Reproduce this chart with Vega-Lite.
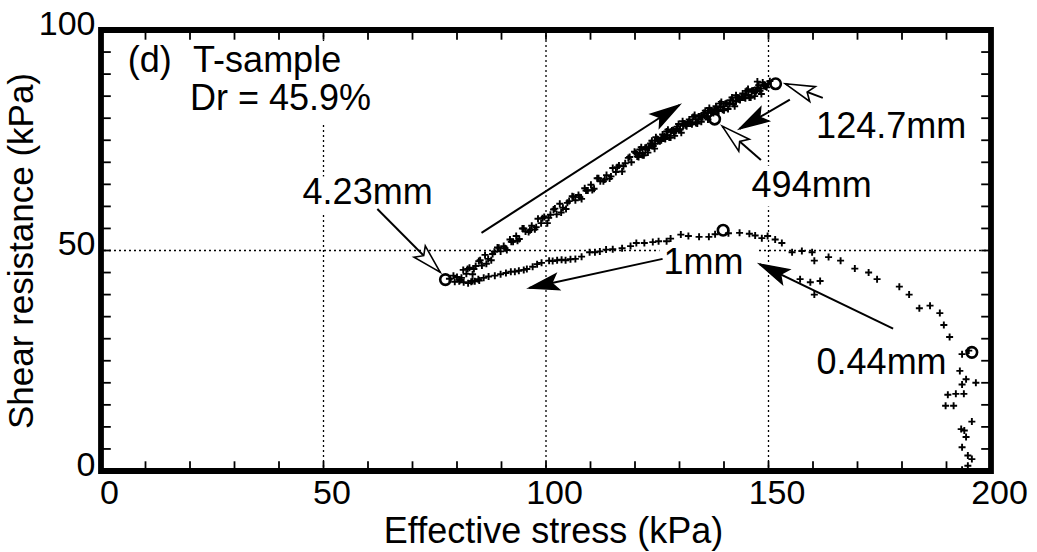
{
  "$schema": "https://vega.github.io/schema/vega-lite/v6.json",
  "width": 890,
  "height": 441,
  "autosize": {"type": "none"},
  "padding": {"left": 101, "top": 30, "right": 46, "bottom": 81},
  "background": "white",
  "config": {
    "view": {"stroke": "black", "strokeWidth": 5.8},
    "font": "Liberation Sans",
    "axis": {
      "labelFont": "Liberation Sans",
      "titleFont": "Liberation Sans",
      "labelColor": "black",
      "titleColor": "black",
      "labelFontSize": 34,
      "titleFontSize": 35,
      "titleFontWeight": "normal",
      "grid": false,
      "domain": false,
      "ticks": false,
      "labelFlush": false,
      "labelOverlap": false,
      "labelBound": false
    }
  },
  "datasets": {
    "path": [
      {"x": 193.5, "y": 0.3}, {"x": 194.8, "y": 1.2}, {"x": 195.7, "y": 2.7}, {"x": 194.8, "y": 3.5},
      {"x": 193.5, "y": 5.4}, {"x": 194.4, "y": 7.7}, {"x": 194.0, "y": 9.2}, {"x": 193.3, "y": 9.5},
      {"x": 195.7, "y": 11.2}, {"x": 189.8, "y": 14.8}, {"x": 191.6, "y": 14.8}, {"x": 190.3, "y": 17.3},
      {"x": 192.1, "y": 17.5}, {"x": 193.9, "y": 17.5}, {"x": 193.5, "y": 19.6}, {"x": 194.4, "y": 20.8},
      {"x": 196.6, "y": 20.0}, {"x": 193.0, "y": 22.7}, {"x": 193.5, "y": 26.5}, {"x": 195.0, "y": 27.3},
      {"x": 190.7, "y": 30.4}, {"x": 189.4, "y": 33.1}, {"x": 188.5, "y": 35.8}, {"x": 186.3, "y": 37.5},
      {"x": 183.9, "y": 36.9}, {"x": 181.6, "y": 40.0}, {"x": 179.4, "y": 41.8}, {"x": 174.4, "y": 43.5},
      {"x": 172.5, "y": 45.0}, {"x": 169.4, "y": 45.9}, {"x": 166.2, "y": 47.7}, {"x": 163.5, "y": 48.5},
      {"x": 160.3, "y": 47.7}, {"x": 159.8, "y": 49.6}, {"x": 155.3, "y": 49.6}, {"x": 153.0, "y": 51.7},
      {"x": 149.8, "y": 53.3}, {"x": 148.5, "y": 52.8}, {"x": 145.7, "y": 53.8}, {"x": 141.0, "y": 53.9},
      {"x": 136.6, "y": 53.1}, {"x": 134.4, "y": 53.1}, {"x": 130.3, "y": 53.6}, {"x": 128.0, "y": 52.7},
      {"x": 127.1, "y": 52.1}, {"x": 125.3, "y": 52.1}, {"x": 122.1, "y": 51.7}, {"x": 120.3, "y": 51.7},
      {"x": 117.1, "y": 50.5}, {"x": 113.5, "y": 50.2}, {"x": 112.1, "y": 49.8}, {"x": 109.8, "y": 49.6},
      {"x": 106.6, "y": 48.1}, {"x": 104.4, "y": 47.8}, {"x": 102.5, "y": 47.8}, {"x": 100.7, "y": 47.7},
      {"x": 98.0, "y": 46.9}, {"x": 95.7, "y": 45.8}, {"x": 93.9, "y": 45.4}, {"x": 92.1, "y": 45.2},
      {"x": 89.8, "y": 44.6}, {"x": 87.1, "y": 44.1}, {"x": 84.8, "y": 43.5}, {"x": 83.5, "y": 43.1},
      {"x": 159.4, "y": 42.8}, {"x": 161.6, "y": 43.1}, {"x": 160.3, "y": 40.0}, {"x": 157.1, "y": 43.5},
      {"x": 86.0, "y": 43.8}, {"x": 88.5, "y": 44.3}, {"x": 91.0, "y": 44.9}, {"x": 93.0, "y": 45.2},
      {"x": 95.0, "y": 45.6}, {"x": 97.0, "y": 46.3}, {"x": 99.0, "y": 47.2}, {"x": 101.5, "y": 47.6},
      {"x": 103.5, "y": 47.9}, {"x": 105.5, "y": 48.0}, {"x": 108.0, "y": 48.6}, {"x": 111.0, "y": 49.6},
      {"x": 115.0, "y": 50.3}, {"x": 119.0, "y": 51.0}, {"x": 124.0, "y": 51.9}, {"x": 132.0, "y": 53.3},
      {"x": 138.0, "y": 53.7}, {"x": 143.5, "y": 54.0}, {"x": 147.0, "y": 53.4}, {"x": 151.5, "y": 52.5},
      {"x": 157.5, "y": 49.9}, {"x": 80.5, "y": 43.0}, {"x": 81.5, "y": 42.8}, {"x": 82.5, "y": 42.6},
      {"x": 83.2, "y": 42.9}, {"x": 84.0, "y": 43.0}, {"x": 85.0, "y": 43.2},
      {"x": 78.3, "y": 43.6}, {"x": 79.2, "y": 44.3}, {"x": 79.5, "y": 42.9},

      {"x": 80.0, "y": 44.0}, {"x": 80.7, "y": 43.3}, {"x": 81.4, "y": 45.6}, {"x": 82.1, "y": 44.7},
      {"x": 82.8, "y": 46.1}, {"x": 83.5, "y": 44.6}, {"x": 84.2, "y": 46.5}, {"x": 84.9, "y": 47.6},
      {"x": 85.6, "y": 46.6}, {"x": 86.3, "y": 49.0}, {"x": 87.0, "y": 48.1}, {"x": 87.7, "y": 47.8},
      {"x": 88.4, "y": 49.7}, {"x": 89.1, "y": 50.7}, {"x": 89.8, "y": 49.8}, {"x": 90.5, "y": 51.0},
      {"x": 91.2, "y": 50.1}, {"x": 91.9, "y": 52.5}, {"x": 92.6, "y": 52.0}, {"x": 93.3, "y": 53.3},
      {"x": 94.0, "y": 52.6}, {"x": 94.7, "y": 55.0}, {"x": 95.4, "y": 54.3}, {"x": 96.1, "y": 54.2},
      {"x": 96.8, "y": 55.6}, {"x": 97.5, "y": 54.8}, {"x": 98.2, "y": 57.2}, {"x": 98.9, "y": 56.2},
      {"x": 99.6, "y": 57.6}, {"x": 100.3, "y": 56.2}, {"x": 101.0, "y": 58.1}, {"x": 101.7, "y": 59.3},
      {"x": 102.4, "y": 58.2}, {"x": 103.1, "y": 60.6}, {"x": 103.8, "y": 59.7}, {"x": 104.5, "y": 59.4},
      {"x": 105.2, "y": 61.2}, {"x": 105.9, "y": 62.3}, {"x": 106.6, "y": 61.4}, {"x": 107.3, "y": 62.6},
      {"x": 108.0, "y": 61.7}, {"x": 108.7, "y": 64.1}, {"x": 109.4, "y": 63.6}, {"x": 110.1, "y": 64.9},
      {"x": 110.8, "y": 64.0}, {"x": 111.5, "y": 66.4}, {"x": 112.2, "y": 65.7}, {"x": 112.9, "y": 65.7},
      {"x": 113.6, "y": 67.1}, {"x": 114.3, "y": 66.3}, {"x": 115.0, "y": 68.7}, {"x": 115.7, "y": 67.8},
      {"x": 116.4, "y": 69.3}, {"x": 117.1, "y": 67.9}, {"x": 117.8, "y": 69.8}, {"x": 118.5, "y": 71.0},
      {"x": 119.2, "y": 70.0}, {"x": 119.9, "y": 72.4},

      {"x": 81.0, "y": 43.8}, {"x": 82.4, "y": 45.8}, {"x": 83.8, "y": 45.8}, {"x": 85.2, "y": 47.8},
      {"x": 86.6, "y": 47.0}, {"x": 88.0, "y": 49.2}, {"x": 89.4, "y": 50.6}, {"x": 90.8, "y": 50.5},
      {"x": 92.2, "y": 52.0}, {"x": 93.6, "y": 52.2}, {"x": 95.0, "y": 55.0}, {"x": 96.4, "y": 54.6},
      {"x": 97.8, "y": 55.3}, {"x": 99.2, "y": 57.3}, {"x": 100.6, "y": 57.4}, {"x": 102.0, "y": 59.5},
      {"x": 103.4, "y": 58.6}, {"x": 104.8, "y": 60.8}, {"x": 106.2, "y": 62.2}, {"x": 107.6, "y": 62.1},
      {"x": 109.0, "y": 63.6}, {"x": 110.4, "y": 63.7}, {"x": 111.8, "y": 66.4}, {"x": 113.2, "y": 66.1},
      {"x": 114.6, "y": 66.8}, {"x": 116.0, "y": 68.9}, {"x": 117.4, "y": 69.1}, {"x": 118.8, "y": 71.2},

      {"x": 120.2, "y": 72.1}, {"x": 120.8, "y": 71.2}, {"x": 121.4, "y": 73.4}, {"x": 122.0, "y": 71.6},
      {"x": 122.6, "y": 73.4}, {"x": 123.2, "y": 73.3}, {"x": 123.8, "y": 74.9}, {"x": 124.4, "y": 73.1},
      {"x": 125.0, "y": 75.3}, {"x": 125.6, "y": 74.8}, {"x": 126.2, "y": 76.3}, {"x": 126.8, "y": 75.3},
      {"x": 127.4, "y": 77.4}, {"x": 128.0, "y": 75.6}, {"x": 128.6, "y": 77.3}, {"x": 129.2, "y": 77.1},
      {"x": 129.8, "y": 78.7}, {"x": 130.4, "y": 76.7}, {"x": 131.0, "y": 78.8}, {"x": 131.6, "y": 78.2},
      {"x": 132.2, "y": 79.7}, {"x": 132.8, "y": 78.6}, {"x": 133.4, "y": 80.7}, {"x": 134.0, "y": 78.8},
      {"x": 134.6, "y": 80.4}, {"x": 135.2, "y": 80.2}, {"x": 135.8, "y": 81.7}, {"x": 136.4, "y": 79.7},
      {"x": 137.0, "y": 81.8}, {"x": 137.6, "y": 81.2}, {"x": 138.2, "y": 82.7}, {"x": 138.8, "y": 81.6},
      {"x": 139.4, "y": 83.7}, {"x": 140.0, "y": 81.8}, {"x": 140.6, "y": 83.4}, {"x": 141.2, "y": 83.2},
      {"x": 141.8, "y": 84.7}, {"x": 142.4, "y": 82.7}, {"x": 143.0, "y": 84.7}, {"x": 143.6, "y": 84.1},
      {"x": 144.2, "y": 85.6}, {"x": 144.8, "y": 84.5}, {"x": 145.4, "y": 86.6}, {"x": 146.0, "y": 84.7},
      {"x": 146.6, "y": 86.3}, {"x": 147.2, "y": 86.1}, {"x": 147.8, "y": 87.5}, {"x": 148.4, "y": 85.5},
      {"x": 149.0, "y": 87.6}, {"x": 149.6, "y": 87.0},

      {"x": 120.5, "y": 71.3}, {"x": 121.1, "y": 72.9}, {"x": 121.7, "y": 71.6}, {"x": 122.3, "y": 73.3},
      {"x": 122.9, "y": 72.2}, {"x": 123.5, "y": 74.3}, {"x": 124.1, "y": 73.7}, {"x": 124.7, "y": 75.7},
      {"x": 125.3, "y": 74.9}, {"x": 125.9, "y": 75.5}, {"x": 126.5, "y": 75.4}, {"x": 127.1, "y": 77.0},
      {"x": 127.7, "y": 75.6}, {"x": 128.3, "y": 77.2}, {"x": 128.9, "y": 76.0}, {"x": 129.5, "y": 78.1},
      {"x": 130.1, "y": 77.4}, {"x": 130.7, "y": 79.3}, {"x": 131.3, "y": 78.4}, {"x": 131.9, "y": 79.0},
      {"x": 132.5, "y": 78.8}, {"x": 133.1, "y": 80.3}, {"x": 133.7, "y": 78.9}, {"x": 134.3, "y": 80.4},
      {"x": 134.9, "y": 79.2}, {"x": 135.5, "y": 81.2}, {"x": 136.1, "y": 80.4}, {"x": 136.7, "y": 82.3},
      {"x": 137.3, "y": 81.4}, {"x": 137.9, "y": 82.0}, {"x": 138.5, "y": 81.8}, {"x": 139.1, "y": 83.3},
      {"x": 139.7, "y": 81.9}, {"x": 140.3, "y": 83.3}, {"x": 140.9, "y": 82.1}, {"x": 141.5, "y": 84.1},
      {"x": 142.1, "y": 83.3}, {"x": 142.7, "y": 85.2}, {"x": 143.3, "y": 84.3}, {"x": 143.9, "y": 84.9},
      {"x": 144.5, "y": 84.7}, {"x": 145.1, "y": 86.2}, {"x": 145.7, "y": 84.7}, {"x": 146.3, "y": 86.2},
      {"x": 146.9, "y": 85.0}, {"x": 147.5, "y": 87.0}, {"x": 148.1, "y": 86.2}, {"x": 148.7, "y": 88.1},
      {"x": 149.3, "y": 87.2}, {"x": 149.9, "y": 87.8}, {"x": 147.5, "y": 88.3}, {"x": 150.3, "y": 88.4},

      {"x": 121.0, "y": 72.1}, {"x": 121.7, "y": 72.1}, {"x": 122.4, "y": 73.0}, {"x": 123.1, "y": 73.3},
      {"x": 123.8, "y": 74.2}, {"x": 124.5, "y": 74.2}, {"x": 125.2, "y": 75.1}, {"x": 125.9, "y": 75.0},
      {"x": 126.6, "y": 75.9}, {"x": 127.3, "y": 76.1}, {"x": 128.0, "y": 76.9}, {"x": 128.7, "y": 76.8},
      {"x": 129.4, "y": 77.6}, {"x": 130.1, "y": 77.5}, {"x": 130.8, "y": 78.3}, {"x": 131.5, "y": 78.5},
      {"x": 132.2, "y": 79.2}, {"x": 132.9, "y": 79.1}, {"x": 133.6, "y": 79.8}, {"x": 134.3, "y": 79.7},
      {"x": 135.0, "y": 80.4}, {"x": 135.7, "y": 80.6}, {"x": 136.4, "y": 81.3}, {"x": 137.1, "y": 81.2},
      {"x": 137.8, "y": 81.9}, {"x": 138.5, "y": 81.8}, {"x": 139.2, "y": 82.5}, {"x": 139.9, "y": 82.7},
      {"x": 140.6, "y": 83.4}, {"x": 141.3, "y": 83.2}, {"x": 142.0, "y": 84.0}, {"x": 142.7, "y": 83.8},
      {"x": 143.4, "y": 84.6}, {"x": 144.1, "y": 84.7}, {"x": 144.8, "y": 85.4}, {"x": 145.5, "y": 85.2},
      {"x": 146.2, "y": 86.0}, {"x": 146.9, "y": 85.8}, {"x": 147.6, "y": 86.7}, {"x": 148.3, "y": 86.7},
      {"x": 149.0, "y": 87.4}
    ],
    "marked": [
      {"x": 195.7, "y": 26.9, "disp": "0.44mm"},
      {"x": 139.8, "y": 54.6, "disp": "1mm"},
      {"x": 77.4, "y": 43.4, "disp": "4.23mm"},
      {"x": 151.6, "y": 87.8, "disp": "124.7mm"},
      {"x": 137.9, "y": 79.8, "disp": "494mm"}
    ],
    "arrows": [
      {"x0": 85.5, "y0": 54.0, "x1": 130.0, "y1": 83.0, "head": "filled"},
      {"x0": 162.2, "y0": 84.6, "x1": 153.8, "y1": 87.8, "head": "open"},
      {"x0": 154.8, "y0": 84.2, "x1": 143.5, "y1": 77.6, "head": "filled"},
      {"x0": 148.3, "y0": 70.5, "x1": 139.6, "y1": 78.2, "head": "open"},
      {"x0": 62.1, "y0": 59.4, "x1": 76.2, "y1": 45.1, "head": "open"},
      {"x0": 126.2, "y0": 48.1, "x1": 96.2, "y1": 41.5, "head": "filled"},
      {"x0": 178.0, "y0": 32.3, "x1": 148.0, "y1": 46.9, "head": "filled"}
    ],
    "notes": [
      {"tx": 6.0, "ty": 90.5, "txt": "(d)"},
      {"tx": 20.7, "ty": 90.5, "txt": "T-sample"},
      {"tx": 20.0, "ty": 81.9, "txt": "Dr = 45.9%"},
      {"tx": 45.3, "ty": 60.5, "txt": "4.23mm"},
      {"tx": 160.7, "ty": 75.6, "txt": "124.7mm"},
      {"tx": 146.2, "ty": 62.2, "txt": "494mm"},
      {"tx": 126.4, "ty": 44.6, "txt": "1mm"},
      {"tx": 160.8, "ty": 22.0, "txt": "0.44mm"}
    ],
    "backs": [
      {"bx": 4.0, "bx2": 62.0, "by": 78.5, "by2": 97.5},
      {"bx": 44.0, "bx2": 75.0, "by": 58.5, "by2": 66.8},
      {"bx": 145.5, "bx2": 175.0, "by": 60.0, "by2": 69.2},
      {"bx": 125.5, "bx2": 147.5, "by": 44.5, "by2": 50.8}
    ],
    "xticks": [
      {"t": 10}, {"t": 20}, {"t": 30}, {"t": 40}, {"t": 50}, {"t": 60}, {"t": 70}, {"t": 80}, {"t": 90},
      {"t": 100}, {"t": 110}, {"t": 120}, {"t": 130}, {"t": 140}, {"t": 150}, {"t": 160}, {"t": 170},
      {"t": 180}, {"t": 190}
    ],
    "yticks": [
      {"t": 5}, {"t": 10}, {"t": 15}, {"t": 20}, {"t": 25}, {"t": 30}, {"t": 35}, {"t": 40}, {"t": 45},
      {"t": 50}, {"t": 55}, {"t": 60}, {"t": 65}, {"t": 70}, {"t": 75}, {"t": 80}, {"t": 85}, {"t": 90},
      {"t": 95}
    ],
    "vgrid": [{"gx": 50}, {"gx": 100}, {"gx": 150}],
    "hgrid": [{"gy": 50}]
  },
  "resolve": {"axis": {"x": "independent", "y": "independent"}},
  "layer": [
    {
      "data": {"name": "vgrid"},
      "mark": {"type": "rule", "color": "black", "strokeWidth": 1.3, "strokeDash": [2, 3]},
      "encoding": {
        "x": {"field": "gx", "type": "quantitative", "scale": {"domain": [0, 200], "nice": false, "zero": false}, "axis": null}
      }
    },
    {
      "data": {"name": "hgrid"},
      "mark": {"type": "rule", "color": "black", "strokeWidth": 1.3, "strokeDash": [2, 3]},
      "encoding": {
        "y": {"field": "gy", "type": "quantitative", "scale": {"domain": [0, 100], "nice": false, "zero": false}, "axis": null}
      }
    },
    {
      "data": {"name": "backs"},
      "mark": {"type": "rect", "fill": "white", "stroke": null},
      "encoding": {
        "x": {"field": "bx", "type": "quantitative", "axis": null},
        "x2": {"field": "bx2"},
        "y": {"field": "by", "type": "quantitative", "axis": null},
        "y2": {"field": "by2"}
      }
    },
    {
      "data": {"name": "xticks"},
      "mark": {"type": "rule", "color": "black", "strokeWidth": 1.8},
      "encoding": {
        "x": {"field": "t", "type": "quantitative", "axis": null},
        "y": {"datum": 0, "type": "quantitative", "axis": null},
        "y2": {"datum": 2.2}
      }
    },
    {
      "data": {"name": "xticks"},
      "mark": {"type": "rule", "color": "black", "strokeWidth": 1.8},
      "encoding": {
        "x": {"field": "t", "type": "quantitative", "axis": null},
        "y": {"datum": 97.8, "type": "quantitative", "axis": null},
        "y2": {"datum": 100}
      }
    },
    {
      "data": {"name": "yticks"},
      "mark": {"type": "rule", "color": "black", "strokeWidth": 1.8},
      "encoding": {
        "y": {"field": "t", "type": "quantitative", "axis": null},
        "x": {"datum": 0, "type": "quantitative", "axis": null},
        "x2": {"datum": 2.2}
      }
    },
    {
      "data": {"name": "yticks"},
      "mark": {"type": "rule", "color": "black", "strokeWidth": 1.8},
      "encoding": {
        "y": {"field": "t", "type": "quantitative", "axis": null},
        "x": {"datum": 197.8, "type": "quantitative", "axis": null},
        "x2": {"datum": 200}
      }
    },
    {
      "data": {"name": "path"},
      "mark": {
        "type": "point", "shape": "M-1,0L1,0M0,-1L0,1", "filled": false,
        "color": "black", "strokeWidth": 1.9, "size": 49, "opacity": 1
      },
      "encoding": {
        "x": {
          "field": "x", "type": "quantitative",
          "axis": {
            "orient": "bottom", "values": [0, 50, 100, 150, 200],
            "labelPadding": 5, "labelOffset": 8,
            "title": "Effective stress (kPa)", "titlePadding": 4,
            "titleFontSize": 36, "titleX": 452
          }
        },
        "y": {
          "field": "y", "type": "quantitative",
          "axis": {
            "orient": "left", "values": [0, 50, 100],
            "labelPadding": 6, "labelOffset": -6,
            "title": "Shear resistance (kPa)", "titlePadding": -1
          }
        }
      }
    },
    {
      "data": {"name": "marked"},
      "mark": {"type": "point", "shape": "circle", "filled": false, "color": "black", "strokeWidth": 2.6, "size": 110, "opacity": 1},
      "encoding": {
        "x": {"field": "x", "type": "quantitative", "axis": null},
        "y": {"field": "y", "type": "quantitative", "axis": null}
      }
    },
    {
      "data": {"name": "arrows"},
      "mark": {"type": "rule", "color": "black", "strokeWidth": 2},
      "encoding": {
        "x": {"field": "x0", "type": "quantitative", "axis": null},
        "y": {"field": "y0", "type": "quantitative", "axis": null},
        "x2": {"field": "x1"},
        "y2": {"field": "y1"}
      }
    },
    {
      "data": {"name": "arrows"},
      "transform": [
        {"calculate": "atan2((datum.x1 - datum.x0) * 4.45, (datum.y1 - datum.y0) * 4.41) * 180 / PI", "as": "ang"}
      ],
      "mark": {"type": "point", "shape": "M0,0L-0.55,2L0,1.6L0.55,2Z", "size": 840, "strokeWidth": 1.6, "opacity": 1, "stroke": "black"},
      "encoding": {
        "x": {"field": "x1", "type": "quantitative", "axis": null},
        "y": {"field": "y1", "type": "quantitative", "axis": null},
        "angle": {"field": "ang", "type": "quantitative", "scale": null},
        "fill": {
          "field": "head", "type": "nominal",
          "scale": {"domain": ["filled", "open"], "range": ["black", "white"]},
          "legend": null
        }
      }
    },
    {
      "data": {"name": "notes"},
      "mark": {"type": "text", "align": "left", "baseline": "alphabetic", "fontSize": 36, "font": "Liberation Sans", "color": "black"},
      "encoding": {
        "x": {"field": "tx", "type": "quantitative", "axis": null},
        "y": {"field": "ty", "type": "quantitative", "axis": null},
        "text": {"field": "txt"}
      }
    }
  ]
}
